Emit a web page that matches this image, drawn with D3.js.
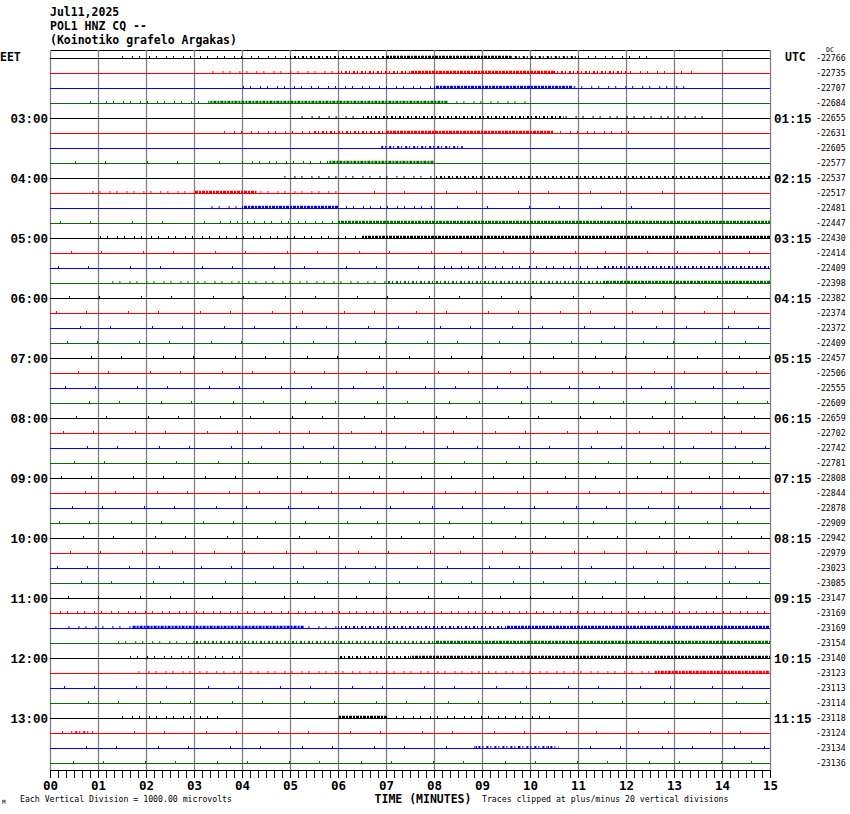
<!DOCTYPE html>
<html><head><meta charset="utf-8">
<script src="https://cdn.jsdelivr.net/npm/d3@7"></script>
<style>
html,body{margin:0;padding:0;background:#fff;}
svg{display:block;}
</style></head>
<body>
<script>
// ---------- DATA ----------
const headerLines = ["Jul11,2025", "POL1 HNZ CQ --", "(Koinotiko grafelo Argakas)"];
const traceColors = ["#000000", "#ff0000", "#0000ff", "#006f00"];
const traceOffsets = [-22766,-22735,-22707,-22684,-22655,-22631,-22605,-22577,
  -22537,-22517,-22481,-22447,-22430,-22414,-22409,-22398,
  -22382,-22374,-22372,-22409,-22457,-22506,-22555,-22609,
  -22659,-22702,-22742,-22781,-22808,-22844,-22878,-22909,
  -22942,-22979,-23023,-23085,-23147,-23169,-23169,-23154,
  -23140,-23123,-23113,-23114,-23118,-23124,-23134,-23136];
const eetLabels = ["03:00","04:00","05:00","06:00","07:00","08:00","09:00","10:00","11:00","12:00","13:00"];
const utcLabels = ["01:15","02:15","03:15","04:15","05:15","06:15","07:15","08:15","09:15","10:15","11:15"];
const labelTraces = [4,8,12,16,20,24,28,32,36,40,44];
const minuteLabels = ["00","01","02","03","04","05","06","07","08","09","10","11","12","13","14","15"];
// activity bursts: [trace, startMinute, endMinute, level 1=very sparse .. 4=dense]
const activity = [
  [0,1.5,5,2],[0,5,7,3],[0,7,9.6,4],[0,9.6,11,3],[0,11,12.6,2],
  [1,3.3,6,2],[1,6,7.5,3],[1,7.5,10.5,4],[1,10.5,12,3],[1,12,13.5,2],[1,14.5,15,1],
  [2,4,8,2],[2,8,10.9,4],[2,10.9,13.3,2],
  [3,0,1,1],[3,1,3.3,2],[3,3.3,8.3,4],[3,8.3,10,2],
  [4,5.2,6.5,2],[4,6.5,8,3],[4,8,10.7,3],[4,10.7,13.7,2],
  [5,3.5,5.5,2],[5,5.5,7,3],[5,7,10.5,4],[5,10.5,12.2,2],
  [6,6.9,8.6,3],
  [7,0,4,1],[7,4,5.8,2],[7,5.8,8,4],
  [8,4.8,8,2],[8,8,11.5,3],[8,11.5,15,3],
  [9,0.8,3,2],[9,3,4.3,4],[9,4.3,6,2],[9,6,13,1],
  [10,3.2,4,2],[10,4,6,4],[10,6,8,2],[10,8,12.5,1],
  [11,0,3.5,1],[11,3.5,6,2],[11,6,15,4],
  [12,1,6.5,2],[12,6.5,15,4],
  [13,0,15,1],
  [14,0,8,1],[14,8,11.5,2],[14,11.5,15,3],
  [15,1.3,7,2],[15,7,11.5,3],[15,11.5,15,4],
  [16,0,15,1],[17,0,15,1],[18,0,15,1],[19,0,15,1],[20,0,15,1],[21,0,15,1],
  [22,0,15,1],[23,0,15,1],[24,0,15,1],[25,0,15,1],[26,0,15,1],[27,0,15,1],
  [28,0,15,1],[29,0,15,1],[30,0,15,1],[31,0,15,1],[32,0,15,1],[33,0,15,1],
  [34,0,15,1],[35,0,15,1],
  [36,0,15,1],[37,0,15,2],
  [38,0.3,1.7,2],[38,1.7,5.3,4],[38,5.3,6,2],[38,6,9.5,3],[38,9.5,15,4],
  [39,1.4,3,2],[39,3,8,3],[39,8,15,4],
  [40,1.5,4.1,2],[40,6,7.5,3],[40,7.5,15,4],
  [41,1.8,12.6,2],[41,12.6,15,4],
  [42,0,15,1],[43,0,15,1],
  [44,1.5,3.5,2],[44,6,7,4],[44,7,10.5,2],
  [45,0,15,1],[45,0.4,0.8,3],
  [46,0,15,1],[46,8.8,10.6,3],
  [47,0,15,1]
];

// ---------- DRAW ----------
const W = 850, H = 814;
const svg = d3.select("body").append("svg").attr("width", W).attr("height", H);
const x = d3.scaleLinear().domain([0, 15]).range([50, 770]);
const y = d3.scaleLinear().domain([0, traceOffsets.length - 1]).range([58, 763]);
const mono = "'DejaVu Sans Mono', monospace";
const dashFor = {1: "1,41,1,29", 2: "1,9,1,6", 3: "1,3,2,2", 4: "3,1,2,1"};

// header
svg.append("g").selectAll("text").data(headerLines).join("text")
  .attr("x", 50).attr("y", 16).attr("dy", (d, i) => i * 14)
  .attr("font-family", mono).attr("font-weight", "bold").attr("font-size", 11.5)
  .text(d => d);

// top border
svg.append("line").attr("x1", x(0)).attr("x2", x(15)).attr("y1", 50.5).attr("y2", 50.5)
  .attr("stroke", "#000").attr("stroke-width", 1);

// vertical grid
svg.append("g").selectAll("line").data(d3.range(0, 16)).join("line")
  .attr("x1", d => Math.round(x(d)) + 0.5).attr("x2", d => Math.round(x(d)) + 0.5)
  .attr("y1", 50).attr("y2", 770)
  .attr("stroke", "#808080").attr("stroke-width", 1.3);

// traces
svg.append("g").selectAll("line").data(traceOffsets).join("line")
  .attr("x1", x(0)).attr("x2", x(15))
  .attr("y1", (d, i) => y(i) + 0.5).attr("y2", (d, i) => y(i) + 0.5)
  .attr("stroke", (d, i) => traceColors[i % 4]).attr("stroke-width", 1.2);

// activity bursts
svg.append("g").selectAll("line").data(activity).join("line")
  .attr("x1", d => x(d[1])).attr("x2", d => x(d[2]))
  .attr("y1", d => y(d[0]) - 1).attr("y2", d => y(d[0]) - 1)
  .attr("stroke", d => traceColors[d[0] % 4])
  .attr("stroke-width", d => d[3] >= 4 ? 2.5 : 2)
  .attr("stroke-dasharray", d => dashFor[d[3]])
  .attr("stroke-dashoffset", d => (d[0] * 13) % 37);

// left / right labels
const hourFont = "'Liberation Mono', monospace";
svg.append("text").attr("x", 0).attr("y", 61).attr("font-family", mono)
  .attr("font-weight", "bold").attr("font-size", 11.5).text("EET");
svg.append("text").attr("x", 785).attr("y", 61).attr("font-family", mono)
  .attr("font-weight", "bold").attr("font-size", 11.5).text("UTC");
svg.append("g").selectAll("text").data(eetLabels).join("text")
  .attr("x", 48).attr("y", (d, i) => y(labelTraces[i]) + 4.5).attr("text-anchor", "end")
  .attr("font-family", hourFont).attr("font-weight", "bold").attr("font-size", 12.5).text(d => d);
svg.append("g").selectAll("text").data(utcLabels).join("text")
  .attr("x", 774).attr("y", (d, i) => y(labelTraces[i]) + 4.5)
  .attr("font-family", hourFont).attr("font-weight", "bold").attr("font-size", 12.5).text(d => d);
svg.append("g").selectAll("text").data(traceOffsets).join("text")
  .attr("x", 816).attr("y", (d, i) => y(i) + 3)
  .attr("font-family", mono).attr("font-size", 8.2).text(d => d);
svg.append("text").attr("x", 826).attr("y", 52).attr("font-family", mono)
  .attr("font-size", 6.5).text("DC");

// bottom axis
const tickVals = d3.range(0, 15 * 6 + 1).map(i => i / 6);
const axis = d3.axisBottom(x).tickValues(tickVals).tickSize(8).tickPadding(3)
  .tickFormat(d => Math.abs(d - Math.round(d)) < 1e-6 ? minuteLabels[Math.round(d)] : "");
const ax = svg.append("g").attr("transform", "translate(0,770)").call(axis);
ax.select(".domain").attr("stroke", "#000").attr("d", `M${x(0)},0.5H${x(15)}`);
ax.selectAll(".tick line").attr("stroke", "#000");
ax.selectAll(".tick text").attr("font-family", mono).attr("font-weight", "bold")
  .attr("font-size", 12.5).attr("fill", "#000");

svg.append("text").attr("x", 423).attr("y", 803).attr("text-anchor", "middle")
  .attr("font-family", mono).attr("font-weight", "bold").attr("font-size", 11.5).text("TIME (MINUTES)");
svg.append("text").attr("x", 20).attr("y", 802).attr("font-family", mono)
  .attr("font-size", 8.2).text("Each Vertical Division = 1000.00 microvolts");
svg.append("text").attr("x", 482).attr("y", 802).attr("font-family", mono)
  .attr("font-size", 8.2).text("Traces clipped at plus/minus 20 vertical divisions");
svg.append("text").attr("x", 2).attr("y", 804).attr("font-family", mono)
  .attr("font-size", 6).text("M");
</script>
</body></html>
